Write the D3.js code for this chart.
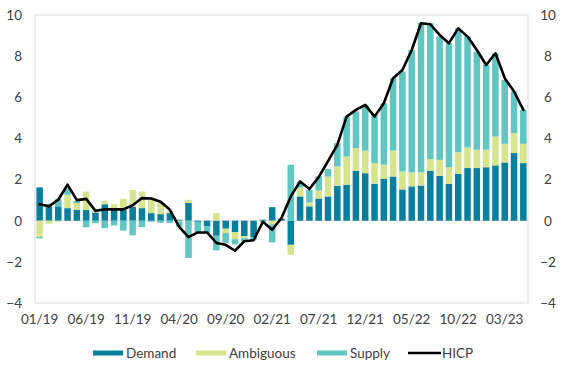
<!DOCTYPE html>
<html>
<head>
<meta charset="utf-8">
<script src="https://cdn.jsdelivr.net/npm/d3@7"></script>
<style>
  html, body { margin: 0; padding: 0; background: #fff; }
  svg { display: block; font-family: Lato, "Open Sans", sans-serif; }
</style>
</head>
<body>
<svg id="chart" width="563" height="366"></svg>
<script>
const months = [
  "01/19","02/19","03/19","04/19","05/19","06/19","07/19","08/19","09/19","10/19","11/19","12/19",
  "01/20","02/20","03/20","04/20","05/20","06/20","07/20","08/20","09/20","10/20","11/20","12/20",
  "01/21","02/21","03/21","04/21","05/21","06/21","07/21","08/21","09/21","10/21","11/21","12/21",
  "01/22","02/22","03/22","04/22","05/22","06/22","07/22","08/22","09/22","10/22","11/22","12/22",
  "01/23","02/23","03/23","04/23","05/23"
];
const tickLabels = ["01/19","06/19","11/19","04/20","09/20","02/21","07/21","12/21","05/22","10/22","03/23"];
const yTicks = [-4, -2, 0, 2, 4, 6, 8, 10];

const demand = [
  1.62, 0.69, 0.70, 0.61, 0.52, 0.52, 0.40, 0.80, 0.55, 0.55, 0.67, 0.61,
  0.37, 0.32, 0.37, 0.05, 0.86, -0.05, -0.28, -0.73, -0.39, -0.55, -0.75, -0.80,
  0.05, 0.66, 0.10, -1.17, 1.18, 0.70, 1.08, 1.18, 1.70, 1.75, 2.43, 2.31,
  1.80, 2.04, 2.15, 1.52, 1.67, 1.71, 2.43, 2.18, 1.80, 2.28, 2.56, 2.56,
  2.60, 2.69, 2.83, 3.29, 2.80
];
const ambiguous = [
  -0.79, -0.15, -0.05, 0.65, 0.34, 0.90, 0.10, 0.17, 0.25, 0.52, 0.83, 0.81,
  0.65, 0.54, 0.10, -0.05, 0.16, 0.00, 0.00, 0.37, -0.21, -0.35, -0.10, 0.00,
  0.00, -0.18, 0.05, -0.48, 0.44, 0.19, 0.39, 0.97, 0.94, 1.37, 1.10, 1.10,
  1.00, 0.68, 1.26, 0.87, 0.68, 0.64, 0.57, 0.78, 0.80, 1.05, 1.00, 0.89,
  0.85, 1.40, 0.91, 0.97, 0.94
];
const supply = [
  -0.07, 0.12, 0.35, 0.30, 0.10, -0.32, -0.12, -0.36, -0.23, -0.48, -0.71, -0.31,
  -0.05, -0.10, -0.11, -0.25, -1.81, -0.50, -0.29, -0.71, -0.48, -0.25, -0.15, -0.15,
  -0.05, -0.87, 0.00, 2.72, 0.25, 0.61, 0.68, 0.36, 1.13, 1.94, 1.78, 2.22,
  2.35, 2.99, 3.52, 4.86, 5.95, 7.25, 6.60, 5.99, 6.03, 6.02, 5.42, 4.77,
  4.12, 4.05, 3.10, 2.02, 1.65
];
const hicp = [
  0.80, 0.70, 1.02, 1.75, 1.00, 1.06, 0.48, 0.55, 0.55, 0.55, 0.75, 1.10,
  1.08, 0.92, 0.53, -0.30, -0.80, -0.57, -0.57, -1.08, -1.17, -1.46, -1.00, -0.95,
  -0.05, -0.44, 0.13, 1.18, 1.91, 1.54, 2.12, 2.90, 3.69, 5.06, 5.39, 5.63,
  5.06, 5.71, 6.93, 7.33, 8.30, 9.60, 9.55, 9.03, 8.63, 9.35, 8.95, 8.30,
  7.57, 8.14, 6.93, 6.28, 5.39
];

const seriesNames = ["Demand", "Ambiguous", "Supply"];
const colors = { Demand: "#077f9d", Ambiguous: "#d6e48d", Supply: "#60c6c2", HICP: "#000000" };

const rows = months.map((m, i) => ({
  month: m, Demand: demand[i], Ambiguous: ambiguous[i], Supply: supply[i], HICP: hicp[i]
}));

const svg = d3.select("#chart");
const margin = { left: 35, right: 35, top: 15, bottom: 63 };
const W = 563, H = 366;
const x = d3.scaleBand().domain(months).range([margin.left, W - margin.right]).paddingInner(0.3).paddingOuter(0.15);
const y = d3.scaleLinear().domain([-4, 10]).range([H - margin.bottom, margin.top]);

const textColor = "#404040";
const frameColor = "#d9d9d9";

// frame
svg.append("rect")
  .attr("x", margin.left).attr("y", margin.top)
  .attr("width", W - margin.left - margin.right)
  .attr("height", y(-4) - y(10))
  .attr("fill", "none").attr("stroke", frameColor).attr("stroke-width", 1);

// zero line
svg.append("line")
  .attr("x1", margin.left).attr("x2", W - margin.right)
  .attr("y1", y(0)).attr("y2", y(0))
  .attr("stroke", frameColor).attr("stroke-width", 1);

// stacked bars
const stack = d3.stack().keys(seriesNames).offset(d3.stackOffsetDiverging);
const stacked = stack(rows);
svg.append("g").selectAll("g")
  .data(stacked).join("g")
  .attr("fill", d => colors[d.key])
  .selectAll("rect")
  .data(d => d).join("rect")
  .attr("x", d => x(d.data.month))
  .attr("width", x.bandwidth())
  .attr("y", d => y(Math.max(d[0], d[1])))
  .attr("height", d => Math.abs(y(d[0]) - y(d[1])));

// HICP line
const line = d3.line()
  .x(d => x(d.month) + x.bandwidth() / 2)
  .y(d => y(d.HICP));
svg.append("path")
  .datum(rows)
  .attr("d", line)
  .attr("fill", "none")
  .attr("stroke", colors.HICP)
  .attr("stroke-width", 2.6)
  .attr("stroke-linejoin", "round")
  .attr("stroke-linecap", "round");

// axes
const fontSize = "13.5px";
const leftAxis = svg.append("g")
  .attr("transform", `translate(${margin.left},0)`)
  .call(d3.axisLeft(y).tickValues(yTicks).tickSize(0).tickPadding(13).tickFormat(d3.format("d")));
leftAxis.select(".domain").remove();
leftAxis.selectAll("text").attr("fill", textColor).style("font-size", fontSize).style("font-family", "Lato, sans-serif");

const rightAxis = svg.append("g")
  .attr("transform", `translate(${W - margin.right},0)`)
  .call(d3.axisRight(y).tickValues(yTicks).tickSize(0).tickPadding(13).tickFormat(d3.format("d")));
rightAxis.select(".domain").remove();
rightAxis.selectAll("text").attr("fill", textColor).style("font-size", fontSize).style("font-family", "Lato, sans-serif")
  .attr("text-anchor", "middle").attr("x", 20);

const bottomAxis = svg.append("g")
  .attr("transform", `translate(0,${y(-4)})`)
  .call(d3.axisBottom(x).tickValues(tickLabels).tickSize(0).tickPadding(11));
bottomAxis.select(".domain").remove();
bottomAxis.selectAll("text").attr("fill", textColor).style("font-size", fontSize).style("font-family", "Lato, sans-serif");

// legend
const legendY = 353;
const legendItems = [
  { name: "Demand", x: 93, type: "rect" },
  { name: "Ambiguous", x: 196, type: "rect" },
  { name: "Supply", x: 317, type: "rect" },
  { name: "HICP", x: 408, type: "line" }
];
const lg = svg.append("g");
legendItems.forEach(it => {
  if (it.type === "rect") {
    lg.append("rect").attr("x", it.x).attr("y", legendY - 2.5).attr("width", 30).attr("height", 5).attr("fill", colors[it.name]);
  } else {
    lg.append("line").attr("x1", it.x).attr("x2", it.x + 33).attr("y1", legendY).attr("y2", legendY)
      .attr("stroke", colors[it.name]).attr("stroke-width", 2.6);
  }
  lg.append("text").attr("x", it.x + (it.type === "rect" ? 33 : 34)).attr("y", legendY)
    .attr("dy", "0.35em").attr("fill", textColor).style("font-size", fontSize)
    .text(it.name);
});
</script>
</body>
</html>
